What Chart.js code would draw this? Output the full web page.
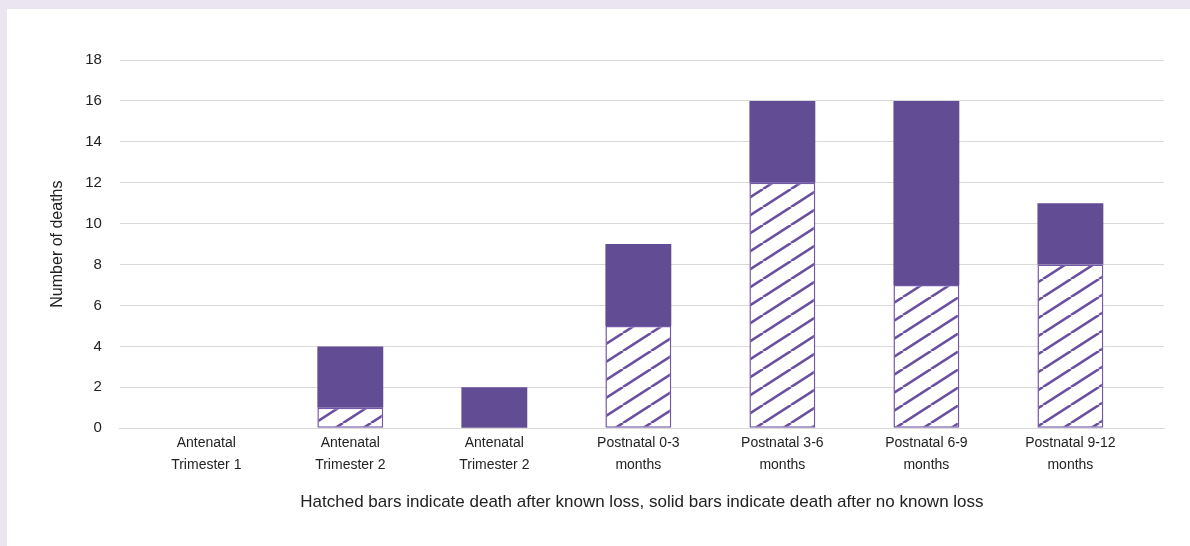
<!DOCTYPE html>
<html>
<head>
<meta charset="utf-8">
<script src="https://cdn.jsdelivr.net/npm/chart.js@4/dist/chart.umd.min.js"></script>
<style>
  html, body { margin: 0; padding: 0; background: #ebe4f1; }
  #frame { position: absolute; left: 7px; top: 9px; width: 1183px; height: 537px; background: #ffffff; }
</style>
</head>
<body>
<div id="frame"><canvas id="myChart"></canvas></div>
<script>
// Data
const categories = [
  ['Antenatal', 'Trimester 1'],
  ['Antenatal', 'Trimester 2'],
  ['Antenatal', 'Trimester 2'],
  ['Postnatal 0-3', 'months'],
  ['Postnatal 3-6', 'months'],
  ['Postnatal 6-9', 'months'],
  ['Postnatal 9-12', 'months']
];
const knownLoss = [0, 1, 0, 5, 12, 7, 8];     // hatched
const noKnownLoss = [0, 3, 2, 4, 4, 9, 3];    // solid
const yTicks = [0, 2, 4, 6, 8, 10, 12, 14, 16, 18];

const purple = '#624c93';

// diagonal hatch pattern
function makeHatch() {
  const w = 28, h = 18;
  const c = document.createElement('canvas');
  c.width = w; c.height = h;
  const g = c.getContext('2d');
  g.fillStyle = '#ffffff';
  g.fillRect(0, 0, w, h);
  g.strokeStyle = '#6a4fa0';
  g.lineWidth = 2.6;
  for (const dx of [-w, 0, w]) {
    g.beginPath();
    g.moveTo(dx, h);
    g.lineTo(dx + w, 0);
    g.stroke();
  }
  return g.createPattern(c, 'repeat');
}

// category index on a linear axis, so the plot can have Excel-like side margins
const toPoints = (arr) => arr.map((v, i) => ({ x: i, y: v }));

const ctx = document.getElementById('myChart').getContext('2d');
new Chart(ctx, {
  type: 'bar',
  data: {
    datasets: [{
      label: 'Death after known loss',
      data: toPoints(knownLoss),
      backgroundColor: makeHatch(),
      borderColor: '#7257a8',
      borderWidth: 1.5,
      borderSkipped: false
    }, {
      label: 'Death after no known loss',
      data: toPoints(noKnownLoss),
      backgroundColor: purple,
      borderWidth: 0
    }]
  },
  options: {
    responsive: true,
    maintainAspectRatio: false,
    animation: false,
    layout: { padding: { top: 51, right: 26, left: 30, bottom: 29 } },
    plugins: {
      legend: { display: false },
      tooltip: { enabled: false }
    },
    datasets: {
      bar: { barPercentage: 0.915, categoryPercentage: 0.5 }
    },
    scales: {
      x: {
        type: 'linear',
        stacked: true,
        offset: false,
        min: -0.6,
        max: 6.65,
        afterBuildTicks: (axis) => { axis.ticks = categories.map((c, i) => ({ value: i })); },
        grid: { display: false, drawTicks: false, offset: false },
        border: { color: '#d9d9d9', width: 1 },
        ticks: {
          color: '#222222',
          font: { family: 'Liberation Sans', size: 14, lineHeight: 1.55 },
          padding: 4,
          maxRotation: 0,
          autoSkip: false,
          callback: (v) => categories[v] || ''
        },
        title: {
          display: true,
          text: 'Hatched bars indicate death after known loss, solid bars indicate death after no known loss',
          color: '#222222',
          font: { family: 'Liberation Sans', size: 17 },
          padding: { top: 13 }
        }
      },
      y: {
        stacked: true,
        min: 0,
        max: 18,
        afterBuildTicks: (axis) => { axis.ticks = yTicks.map(v => ({ value: v })); },
        grid: { color: '#d9d9d9', lineWidth: 1, drawTicks: false },
        border: { display: false },
        ticks: {
          color: '#222222',
          font: { family: 'Liberation Sans', size: 15 },
          padding: 18
        },
        title: {
          display: true,
          text: 'Number of deaths',
          color: '#222222',
          font: { family: 'Liberation Sans', size: 16 },
          padding: { top: 11, bottom: 0 }
        }
      }
    }
  }
});
</script>
</body>
</html>
